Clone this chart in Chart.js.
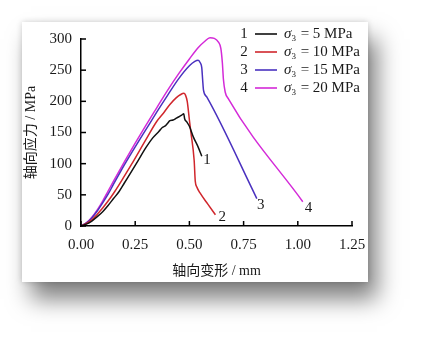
<!DOCTYPE html>
<html>
<head>
<meta charset="utf-8">
<script src="https://cdn.jsdelivr.net/npm/chart.js@4.4.1/dist/chart.umd.min.js"></script>
<style>
  html, body { margin: 0; padding: 0; background: #fff; }
  body { width: 423px; height: 337px; position: relative; overflow: hidden; }
  #card {
    position: absolute; left: 22px; top: 22px; width: 346px; height: 260px;
    background: #fff;
    box-shadow: 9px 17px 22px rgba(0,0,0,0.5), 0 0 6px rgba(0,0,0,0.18);
  }
</style>
</head>
<body>
<div id="card"><canvas id="c" width="346" height="260"></canvas></div>
<script>
// ---- data (axial deformation mm / axial stress MPa) ----
const xTicks = [0, 0.25, 0.5, 0.75, 1.0, 1.25];
const yTicks = [0, 50, 100, 150, 200, 250, 300];

const s1x = [0, 0.025, 0.05, 0.075, 0.1, 0.125, 0.15, 0.175, 0.2, 0.255, 0.3, 0.33, 0.36, 0.375, 0.39, 0.4, 0.41, 0.425, 0.44, 0.455, 0.465, 0.474, 0.478, 0.488, 0.5, 0.518, 0.54, 0.557];
const s1y = [0, 3, 8, 15, 23, 33, 44, 55, 69, 100, 126, 141, 152, 158, 161, 165, 169, 170, 173, 176, 178, 180, 172, 167, 160, 143, 127, 112];

const s2x = [0, 0.025, 0.05, 0.075, 0.1, 0.125, 0.155, 0.2, 0.235, 0.3, 0.35, 0.38, 0.41, 0.44, 0.46, 0.474, 0.482, 0.49, 0.5, 0.507, 0.522, 0.527, 0.535, 0.549, 0.585, 0.62];
const s2y = [0, 4, 10, 19, 29, 40, 55, 80, 100, 139, 168, 181, 195, 206, 211, 213, 210, 200, 170, 150, 105, 72, 62, 53, 35, 18];

const s3x = [0, 0.025, 0.05, 0.075, 0.1, 0.125, 0.15, 0.2, 0.25, 0.3, 0.35, 0.4, 0.45, 0.5, 0.525, 0.54, 0.55, 0.557, 0.561, 0.565, 0.58, 0.811];
const s3y = [0, 5, 13, 24, 37, 51, 67, 98, 127, 155, 183, 210, 236, 257, 264, 266, 262, 254, 235, 218, 207, 44];

const s4x = [0, 0.025, 0.05, 0.075, 0.1, 0.125, 0.15, 0.2, 0.25, 0.3, 0.35, 0.4, 0.45, 0.5, 0.54, 0.57, 0.595, 0.615, 0.634, 0.645, 0.652, 0.657, 0.665, 0.68, 1.023];
const s4y = [0, 5, 14, 26, 40, 56, 72, 103, 133, 162, 190, 218, 244, 268, 286, 296, 302, 301, 295, 285, 262, 235, 215, 204, 39];

const seriesNames = ['1', '2', '3', '4'];
const confining = ['5', '10', '15', '20'];
const colors = ['#111111', '#d0262c', '#4a31bf', '#d42ad8'];
// curve end labels (data coordinates)
const endLabelX = [0.581, 0.651, 0.829, 1.049];
const endLabelY = [105, 14, 34, 28];

const XS = [s1x, s2x, s3x, s4x];
const YS = [s1y, s2y, s3y, s4y];

const SERIF = '"Liberation Serif", "Times New Roman", serif';
const CJK = '"Liberation Serif", "Noto Sans CJK SC", serif';
const TXT = '#1a1a1a';

// inward ticks, curve numbers and the legend with the sigma subscript
const extras = {
  id: 'extras',
  afterDraw(chart) {
    const ctx = chart.ctx, a = chart.chartArea;
    const sx = chart.scales.x, sy = chart.scales.y;
    ctx.save();
    ctx.strokeStyle = '#000'; ctx.lineWidth = 1.5;
    xTicks.forEach(v => {
      const px = sx.getPixelForValue(v);
      ctx.beginPath(); ctx.moveTo(px, a.bottom); ctx.lineTo(px, a.bottom - 5); ctx.stroke();
    });
    yTicks.forEach(v => {
      const py = sy.getPixelForValue(v);
      ctx.beginPath(); ctx.moveTo(a.left, py); ctx.lineTo(a.left + 5, py); ctx.stroke();
    });

    ctx.fillStyle = TXT;
    ctx.font = '15px ' + SERIF;
    ctx.textAlign = 'center'; ctx.textBaseline = 'middle';
    seriesNames.forEach((n, i) => {
      ctx.fillText(n, sx.getPixelForValue(endLabelX[i]), sy.getPixelForValue(endLabelY[i]));
    });

    // legend
    const x0 = a.right - 108;
    seriesNames.forEach((n, i) => {
      const y = a.top - 5 + i * 18;
      ctx.fillStyle = TXT;
      ctx.font = '15px ' + SERIF;
      ctx.textAlign = 'center';
      ctx.fillText(n, x0, y);
      ctx.strokeStyle = colors[i]; ctx.lineWidth = 1.6;
      ctx.beginPath(); ctx.moveTo(x0 + 11, y); ctx.lineTo(x0 + 33, y); ctx.stroke();
      ctx.textAlign = 'left';
      ctx.font = 'italic 15px ' + SERIF;
      let tx = x0 + 40;
      ctx.fillText('\u03c3', tx, y);
      tx += ctx.measureText('\u03c3').width;
      ctx.font = '9px ' + SERIF;
      ctx.fillText('3', tx, y + 5);
      tx += ctx.measureText('3').width + 1;
      ctx.font = '15px ' + SERIF;
      ctx.fillText(' = ' + confining[i] + ' MPa', tx, y);
    });
    ctx.restore();
  }
};

new Chart(document.getElementById('c'), {
  type: 'line',
  data: {
    datasets: XS.map((xs, i) => ({
      label: seriesNames[i],
      data: xs.map((x, j) => ({ x: x, y: YS[i][j] })),
      borderColor: colors[i], backgroundColor: colors[i],
      borderWidth: 1.5, pointRadius: 0, cubicInterpolationMode: 'monotone',
      fill: false, clip: 8
    }))
  },
  options: {
    responsive: false, animation: false,
    layout: { padding: { top: 17, right: 16, left: 0, bottom: 0 } },
    plugins: { legend: { display: false }, tooltip: { enabled: false } },
    scales: {
      x: {
        type: 'linear', min: 0, max: 1.25,
        afterFit: s => { s.height = 56; s.paddingLeft = 0; s.paddingRight = 0; },
        afterBuildTicks: s => { s.ticks = xTicks.map(v => ({ value: v })); },
        grid: { display: false, drawTicks: false },
        border: { color: '#000', width: 1.5 },
        ticks: { color: TXT, font: { family: SERIF, size: 15 }, padding: 10,
                 maxRotation: 0, autoSkip: false, callback: v => v.toFixed(2) },
        title: { display: true, text: '轴向变形 / mm', color: TXT,
                 font: { family: CJK, size: 14 }, padding: { top: 0, bottom: 2 } }
      },
      y: {
        min: 0, max: 300,
        afterFit: s => { s.width = 59; s.paddingTop = 0; s.paddingBottom = 0; },
        afterBuildTicks: s => { s.ticks = yTicks.map(v => ({ value: v })); },
        grid: { display: false, drawTicks: false },
        border: { color: '#000', width: 1.5 },
        ticks: { color: TXT, font: { family: SERIF, size: 15 }, padding: 9 },
        title: { display: true, text: '轴向应力 / MPa', color: TXT,
                 font: { family: CJK, size: 14 }, padding: { top: 1, bottom: 0 } }
      }
    }
  },
  plugins: [extras]
});
</script>
</body>
</html>
